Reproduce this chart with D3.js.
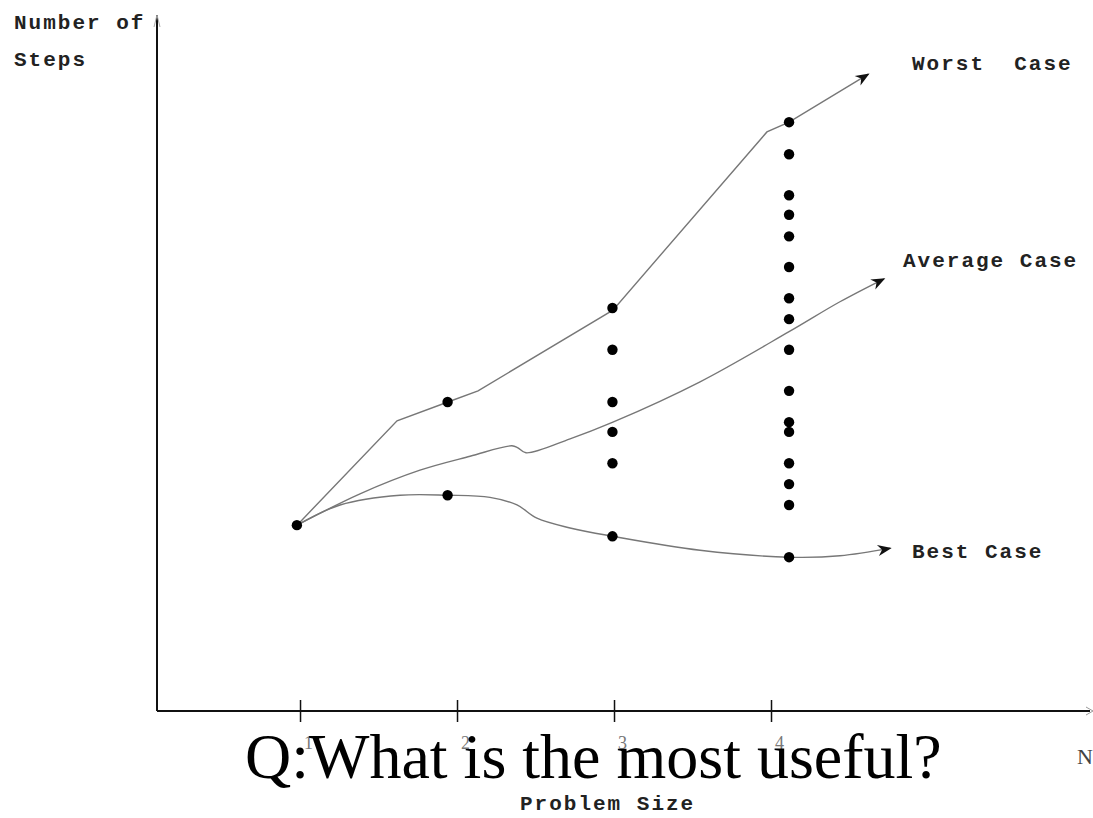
<!DOCTYPE html>
<html>
<head>
<meta charset="utf-8">
<script src="https://cdn.jsdelivr.net/npm/d3@7"></script>
<style>
  body { margin: 0; background: #fff; }
  .mono { font-family: "Liberation Mono", "DejaVu Sans Mono", monospace; font-size: 21px; font-weight: bold; letter-spacing: 2px; fill: #222; }
</style>
</head>
<body>
<div id="chart"></div>
<script>
// ---- data (x = problem size, y = number of steps, arbitrary units) ----
const tickValues = [1, 2, 3, 4];
const tickLabels = ["1", "2", "3", "4"];

// observed running times, one column per problem size
const dotsSize1 = [{x: 0.98, y: 26.7}];
const dotsSize2 = [{x: 1.94, y: 44.4}, {x: 1.94, y: 31.0}];
const dotsSize3 = [57.9, 51.9, 44.4, 40.1, 35.6, 25.1].map(v => ({x: 2.99, y: v}));
const dotsSize4 = [84.6, 80.0, 74.1, 71.3, 68.2, 63.8, 59.3, 56.3, 51.9, 46.0, 41.5, 40.1, 35.6, 32.6, 29.6, 22.1]
                    .map(v => ({x: 4.115, y: v}));

const worstX = [0.981, 1.618, 1.942, 2.134, 2.993, 3.974, 4.115, 4.62];
const worstY = [26.7, 41.7, 44.4, 46.0, 57.6, 83.2, 84.6, 91.5];

const avgX = [0.981, 1.382, 1.764, 2.083, 2.350, 2.388, 2.439, 2.720, 2.993, 3.548, 4.115, 4.439, 4.72];
const avgY = [26.7, 31.2, 34.6, 36.6, 38.1, 37.8, 37.1, 39.1, 41.5, 47.3, 54.5, 58.8, 62.1];

const bestX = [0.981, 1.255, 1.637, 1.942, 2.210, 2.382, 2.509, 2.720, 2.993, 3.548, 4.115, 4.439, 4.76];
const bestY = [26.7, 29.6, 31.0, 31.0, 30.7, 29.6, 27.7, 26.3, 25.1, 23.1, 22.1, 22.3, 23.4];

const caseLabels = ["Worst  Case", "Average Case", "Best Case"];

// ---- layout ----
const W = 1093, H = 818;
const x = d3.scaleLinear().domain([0.089, 6]).range([157, 1085]);
const y = d3.scaleLinear().domain([0, 100]).range([711, 15]);

const svg = d3.select("#chart").append("svg")
    .attr("width", W).attr("height", H);

const defs = svg.append("defs");
defs.append("marker")
    .attr("id", "head")
    .attr("viewBox", "0 0 10 10")
    .attr("refX", 9).attr("refY", 5)
    .attr("markerWidth", 20).attr("markerHeight", 14)
    .attr("markerUnits", "userSpaceOnUse")
    .attr("orient", "auto")
  .append("path")
    .attr("d", "M0,1 L10,5 L0,9 L3,5 Z")
    .attr("fill", "#111");

// axes
svg.append("line")
    .attr("x1", x(0.089)).attr("x2", x(0.089))
    .attr("y1", y(0)).attr("y2", y(100))
    .attr("stroke", "#111").attr("stroke-width", 2);
svg.append("path")
    .attr("d", `M${x(0.089) - 3},${y(100) + 12} L${x(0.089)},${y(100)} L${x(0.089) + 3},${y(100) + 12}`)
    .attr("fill", "none").attr("stroke", "#aaa").attr("stroke-width", 1);

const xAxis = svg.append("g")
    .attr("transform", `translate(0,${y(0)})`)
    .call(d3.axisBottom(x).tickValues(tickValues).tickSize(11).tickFormat(""));
xAxis.select(".domain").remove();
xAxis.selectAll(".tick line").attr("y1", -11).attr("stroke", "#111").attr("stroke-width", 1.5);
svg.append("line")
    .attr("x1", x(0.089)).attr("x2", 1090)
    .attr("y1", y(0)).attr("y2", y(0))
    .attr("stroke", "#111").attr("stroke-width", 2);
svg.append("path")
    .attr("d", `M1086,${y(0) - 4} L1093,${y(0)} L1086,${y(0) + 4}`)
    .attr("fill", "none").attr("stroke", "#999").attr("stroke-width", 1);

// small tick numbers
svg.selectAll(".tl").data(tickValues).join("text")
    .attr("class", "tl")
    .attr("x", d => x(d) + 4).attr("y", y(0) + 38)
    .attr("font-family", "Liberation Serif, serif").attr("font-size", 18)
    .attr("fill", "#777")
    .text((d, i) => tickLabels[i]);

// curves
const curves = [
  {xs: worstX, ys: worstY, curve: d3.curveLinear},
  {xs: avgX, ys: avgY, curve: d3.curveCatmullRom},
  {xs: bestX, ys: bestY, curve: d3.curveCatmullRom}
];
curves.forEach(c => {
  const line = d3.line().x(d => x(d[0])).y(d => y(d[1])).curve(c.curve);
  svg.append("path")
      .datum(c.xs.map((v, i) => [v, c.ys[i]]))
      .attr("d", line)
      .attr("fill", "none")
      .attr("stroke", "#777")
      .attr("stroke-width", 1.4)
      .attr("marker-end", "url(#head)");
});

// dots
const allDots = [].concat(dotsSize1, dotsSize2, dotsSize3, dotsSize4);
svg.selectAll(".dot").data(allDots).join("circle")
    .attr("class", "dot")
    .attr("cx", d => x(d.x)).attr("cy", d => y(d.y))
    .attr("r", 5.2).attr("fill", "#000");

// labels
svg.append("text").attr("class", "mono").attr("x", 14).attr("y", 29).text("Number of");
svg.append("text").attr("class", "mono").attr("x", 14).attr("y", 66).text("Steps");
const labelPos = [[912, 70], [903, 267], [912, 558]];
caseLabels.forEach((t, i) => {
  svg.append("text").attr("class", "mono")
      .attr("x", labelPos[i][0]).attr("y", labelPos[i][1])
      .attr("xml:space", "preserve").style("white-space", "pre")
      .text(t);
});
svg.append("text").attr("class", "mono").attr("x", 520).attr("y", 810).text("Problem Size");

svg.append("text")
    .attr("x", 1077).attr("y", 764)
    .attr("font-family", "Liberation Serif, serif").attr("font-size", 22)
    .attr("fill", "#444").text("N");

svg.append("text")
    .attr("x", 245).attr("y", 778)
    .attr("font-family", "Liberation Serif, serif").attr("font-size", 64)
    .attr("fill", "#000")
    .text("Q:What is the most useful?");
</script>
</body>
</html>
